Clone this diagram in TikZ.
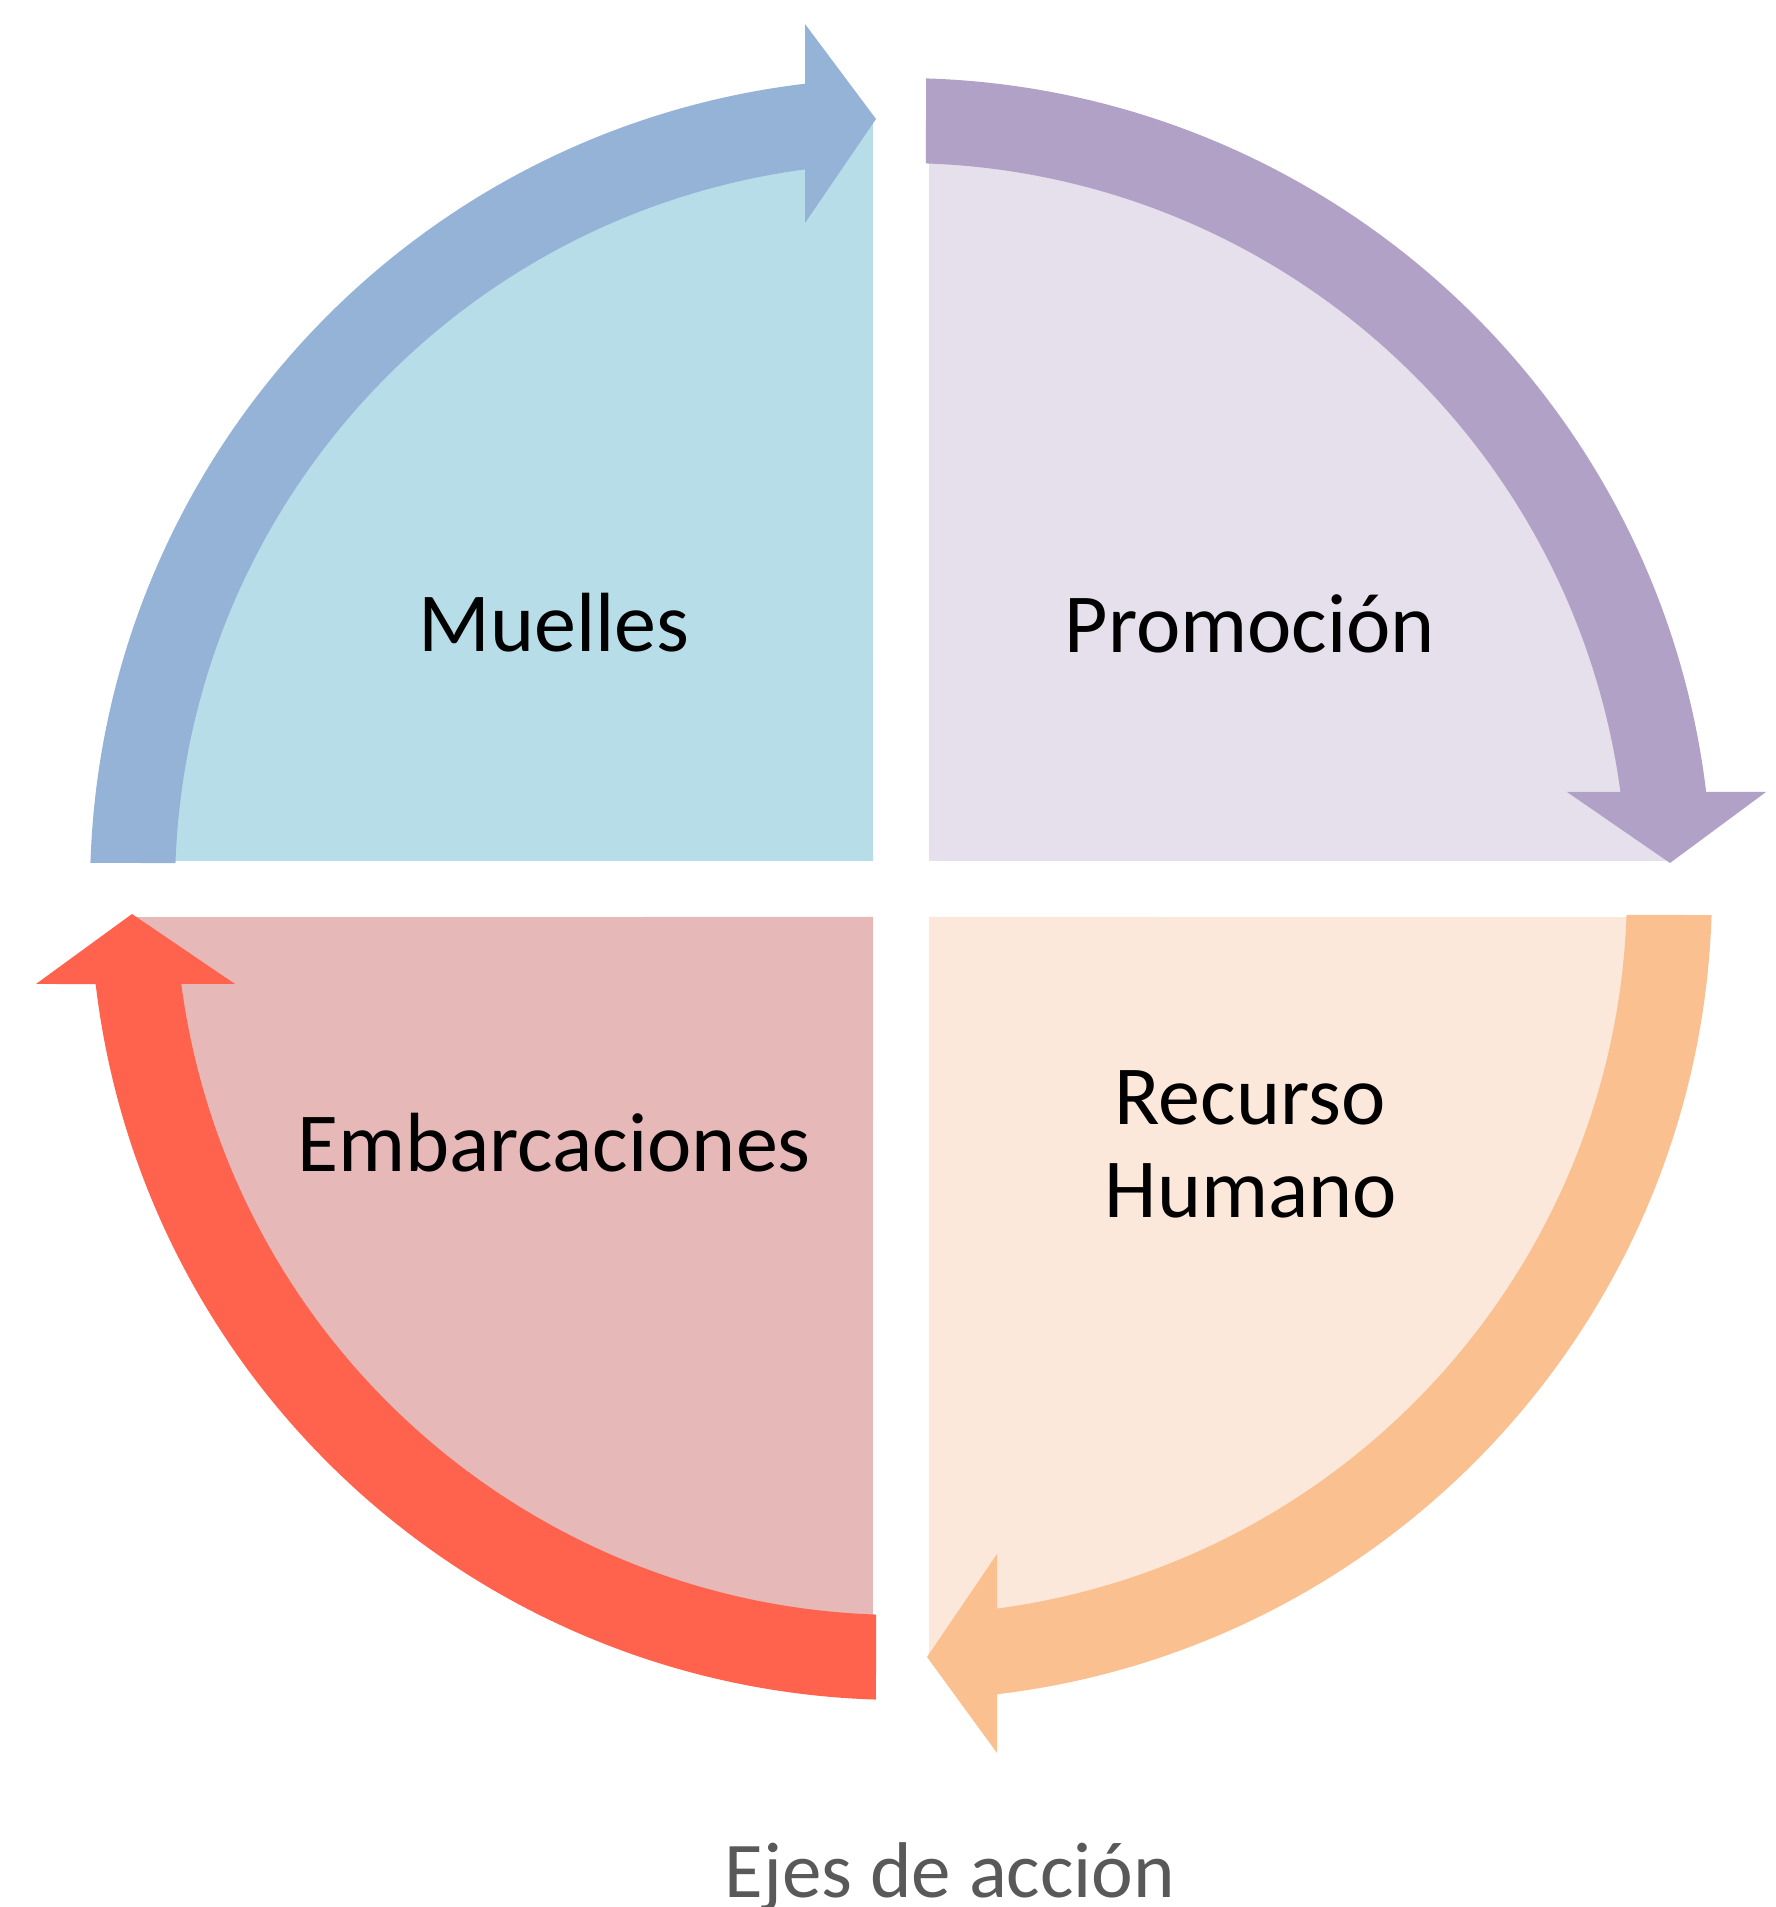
\documentclass[tikz,border=0pt]{standalone}
\usepackage{fontspec}
\setmainfont{Carlito}
\usetikzlibrary{calc}
\definecolor{bluearrow}{HTML}{95B3D7}
\definecolor{bluefill}{HTML}{B7DDE8}
\definecolor{purparrow}{HTML}{B2A1C7}
\definecolor{purpfill}{HTML}{E5E0EC}
\definecolor{orarrow}{HTML}{FAC090}
\definecolor{orfill}{HTML}{FCE8DA}
\definecolor{redarrow}{HTML}{FF634D}
\definecolor{redfill}{HTML}{E6B8B7}
\definecolor{titlegray}{HTML}{595959}
\tikzset{
  lbl/.style={anchor=base, inner sep=0pt, font=\fontsize{25.2}{30}\selectfont, text=black},
  ttl/.style={anchor=base, inner sep=0pt, font=\fontsize{23.7}{28}\selectfont, text=titlegray}
}
\begin{document}
\begin{tikzpicture}[x=0.3pt,y=0.3pt]
\useasboundingbox (0,0) rectangle (1776,1907);
\coordinate (C) at (901,1018);
% quadrant fills
\fill[bluefill] (873,1046) -- ($(C)+(92.09:769)$) arc[start angle=92.09, end angle=177.91, radius=769] -- cycle;
\fill[purpfill] (929,1046) -- ($(C)+(2.09:769)$) arc[start angle=2.09, end angle=87.91, radius=769] -- cycle;
\fill[orfill] (929,990) -- ($(C)+(-87.91:769)$) arc[start angle=-87.91, end angle=-2.09, radius=769] -- cycle;
\fill[redfill] (873,990) -- ($(C)+(182.09:769)$) arc[start angle=182.09, end angle=267.91, radius=769] -- cycle;
% arrows
\fill[bluearrow] ($(C)+(178.16:811)$) arc[start angle=178.16, end angle=96.80, radius=811]
  -- (805,1883) -- (876,1788) -- (805,1684)
  -- ($(C)+(97.60:726)$) arc[start angle=97.60, end angle=177.95, radius=726] -- cycle;
\fill[purparrow] ($(C)+(88.23:811)$) arc[start angle=88.23, end angle=6.87, radius=811]
  -- (1766,1115) -- (1670,1044) -- (1567,1115)
  -- ($(C)+(7.68:726)$) arc[start angle=7.68, end angle=88.03, radius=726] -- cycle;
\fill[orarrow] ($(C)+(-1.84:811)$) arc[start angle=-1.84, end angle=-83.20, radius=811]
  -- (997,154) -- (927,250) -- (997,353)
  -- ($(C)+(-82.40:726)$) arc[start angle=-82.40, end angle=-2.05, radius=726] -- cycle;
\fill[redarrow] ($(C)+(268.23:811)$) arc[start angle=268.23, end angle=186.73, radius=811]
  -- (36,923) -- (132,993) -- (235,923)
  -- ($(C)+(187.52:726)$) arc[start angle=187.52, end angle=268.03, radius=726] -- cycle;
% labels
\node[lbl] (muelles) at (554,1255) {Muelles};
\node[lbl] (promocion) at (1250,1254) {Promoción};
\node[lbl] (rh1) at (1250,782) {Recurso};
\node[lbl] (rh2) at (1251,689) {Humano};
\node[lbl] (embarc) at (554,735) {Embarcaciones};
\node[ttl] (title) at (950,9) {Ejes de acción};
\end{tikzpicture}
\end{document}
